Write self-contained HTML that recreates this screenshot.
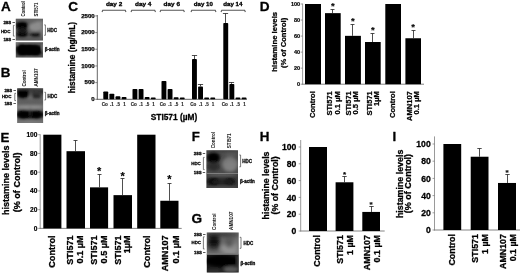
<!DOCTYPE html>
<html><head><meta charset="utf-8"><title>Figure</title>
<style>
html,body{margin:0;padding:0;background:#fff;}
body{width:520px;height:275px;overflow:hidden;}
svg{display:block;font-family:"Liberation Sans", sans-serif;}
text{stroke:#000;stroke-width:0.32px;paint-order:stroke;stroke-linejoin:round;}
</style></head>
<body>
<svg width="520" height="275" viewBox="0 0 520 275">
<rect width="520" height="275" fill="#fff"/>
<defs>
<filter id="bl0_4" x="-50%" y="-50%" width="200%" height="200%"><feGaussianBlur stdDeviation="0.4"/></filter>
<filter id="bl0_8" x="-50%" y="-50%" width="200%" height="200%"><feGaussianBlur stdDeviation="0.8"/></filter>
<filter id="bl1_0" x="-50%" y="-50%" width="200%" height="200%"><feGaussianBlur stdDeviation="1.0"/></filter>
<filter id="bl1_2" x="-50%" y="-50%" width="200%" height="200%"><feGaussianBlur stdDeviation="1.2"/></filter>
<filter id="bl1_4" x="-50%" y="-50%" width="200%" height="200%"><feGaussianBlur stdDeviation="1.4"/></filter>
<filter id="bl1_5" x="-50%" y="-50%" width="200%" height="200%"><feGaussianBlur stdDeviation="1.5"/></filter>
<filter id="bl1_6" x="-50%" y="-50%" width="200%" height="200%"><feGaussianBlur stdDeviation="1.6"/></filter>
<filter id="bl1_8" x="-50%" y="-50%" width="200%" height="200%"><feGaussianBlur stdDeviation="1.8"/></filter>
<filter id="bl2_0" x="-50%" y="-50%" width="200%" height="200%"><feGaussianBlur stdDeviation="2.0"/></filter>
<filter id="bl2_5" x="-50%" y="-50%" width="200%" height="200%"><feGaussianBlur stdDeviation="2.5"/></filter>
</defs>
<clipPath id="c1"><rect x="15.8" y="18.8" width="27.20" height="21.80"/></clipPath>
<g clip-path="url(#c1)"><rect x="13.8" y="16.8" width="31.20" height="25.80" fill="#5e5e5e"/><g filter="url(#bl1_5)">
<ellipse cx="35.5" cy="27.0" rx="6.5" ry="4.5" fill="#8c8c8c" opacity="1"/>
<ellipse cx="40" cy="22.6" rx="4.5" ry="1.0" fill="#9a9a9a" opacity="0.9"/>
<ellipse cx="42.5" cy="30" rx="1.5" ry="7" fill="#888" opacity="0.8"/>
<ellipse cx="22.0" cy="25.6" rx="6.2" ry="4.6" fill="#000" opacity="1"/>
<ellipse cx="22.0" cy="25.6" rx="5.0" ry="3.6" fill="#000" opacity="1"/>
<ellipse cx="22.2" cy="34.4" rx="5.6" ry="2.9" fill="#000" opacity="1"/>
<ellipse cx="22.2" cy="30.4" rx="5.2" ry="3.0" fill="#161616" opacity="0.95"/>
<ellipse cx="35.6" cy="34.6" rx="5.6" ry="2.3" fill="#0c0c0c" opacity="1"/>
<ellipse cx="35.6" cy="34.6" rx="4.0" ry="1.4" fill="#0c0c0c" opacity="0.8"/>
<ellipse cx="29" cy="19.3" rx="16" ry="1.0" fill="#666" opacity="1"/>
<ellipse cx="29" cy="39.8" rx="16" ry="1.0" fill="#555" opacity="1"/>
</g>
</g>
<clipPath id="c2"><rect x="15.8" y="42.2" width="27.20" height="15.40"/></clipPath>
<g clip-path="url(#c2)"><rect x="13.8" y="40.2" width="31.20" height="19.40" fill="#505050"/><g filter="url(#bl1_2)">
<ellipse cx="29.3" cy="50.0" rx="12.4" ry="6.0" fill="#000" opacity="1"/>
<ellipse cx="22.5" cy="50.0" rx="6.4" ry="6.2" fill="#000" opacity="1"/>
<ellipse cx="35.5" cy="50.4" rx="6.4" ry="5.8" fill="#000" opacity="1"/>
<ellipse cx="29.3" cy="50.0" rx="10.5" ry="4.5" fill="#000" opacity="1"/>
<ellipse cx="16.5" cy="43.3" rx="1.5" ry="1.2" fill="#999" opacity="1"/>
<ellipse cx="42.8" cy="47" rx="0.9" ry="4" fill="#909090" opacity="1"/>
<ellipse cx="29" cy="42.4" rx="14" ry="0.5" fill="#7a7a7a" opacity="1"/>
<ellipse cx="29" cy="57.5" rx="14" ry="0.5" fill="#7a7a7a" opacity="1"/>
</g>
</g>
<text x="14.90" y="24.08" font-size="4.4" font-weight="bold" text-anchor="end" fill="#111" style="stroke-width:0.3px">28S –</text>
<text x="10.40" y="32.78" font-size="4.4" font-weight="bold" text-anchor="end" fill="#111" style="stroke-width:0.3px">HDC</text>
<text x="14.90" y="41.48" font-size="4.4" font-weight="bold" text-anchor="end" fill="#111" style="stroke-width:0.3px">18S –</text>
<path d="M14.60 25.40 H13.40 V36.10 H14.60" fill="none" stroke="#444" stroke-width="0.7"/>
<path d="M44.20 24.90 H45.40 V35.30 H44.20" fill="none" stroke="#444" stroke-width="0.7"/>
<text x="47.30" y="31.82" font-size="4.5" font-weight="bold" text-anchor="start" fill="#111" style="stroke-width:0.3px">HDC</text>
<text x="44.80" y="51.12" font-size="4.5" font-weight="bold" text-anchor="start" fill="#111" style="stroke-width:0.3px">β-actin</text>
<text transform="translate(24.99 16.50) rotate(-90)" font-size="4.7" font-weight="bold" text-anchor="start" fill="#222" textLength="15.3" lengthAdjust="spacingAndGlyphs" style="stroke-width:0.05px">Control</text>
<text transform="translate(37.89 16.50) rotate(-90)" font-size="4.7" font-weight="bold" text-anchor="start" fill="#222" textLength="14.0" lengthAdjust="spacingAndGlyphs" style="stroke-width:0.05px">STI571</text>
<clipPath id="c3"><rect x="17.2" y="88.3" width="25.90" height="34.70"/></clipPath>
<g clip-path="url(#c3)"><rect x="15.2" y="86.3" width="29.90" height="38.70" fill="#646464"/><g filter="url(#bl1_5)">
<ellipse cx="30" cy="91.5" rx="15" ry="4.0" fill="#222" opacity="1"/>
<ellipse cx="23.0" cy="94.0" rx="6.2" ry="4.8" fill="#000" opacity="1"/>
<ellipse cx="23.0" cy="92.5" rx="5.0" ry="3.4" fill="#000" opacity="1"/>
<ellipse cx="36.5" cy="93.0" rx="5.5" ry="4.5" fill="#3a3a3a" opacity="0.85"/>
<ellipse cx="36.6" cy="96.6" rx="4.4" ry="1.9" fill="#1c1c1c" opacity="1"/>
<ellipse cx="30.5" cy="95" rx="0.9" ry="5" fill="#777" opacity="0.7"/>
<ellipse cx="30" cy="101.5" rx="15" ry="2.0" fill="#5c5c5c" opacity="0.8"/>
<ellipse cx="30" cy="107.0" rx="15" ry="1.3" fill="#a0a0a0" opacity="1"/>
<ellipse cx="30" cy="114.6" rx="15" ry="4.2" fill="#000" opacity="1"/>
<ellipse cx="23.5" cy="114.4" rx="6.5" ry="5.0" fill="#000" opacity="1"/>
<ellipse cx="36.5" cy="114.6" rx="6" ry="4.6" fill="#000" opacity="1"/>
<ellipse cx="30" cy="114.6" rx="13" ry="3.0" fill="#000" opacity="1"/>
<ellipse cx="30.4" cy="112" rx="0.7" ry="6" fill="#444" opacity="0.6"/>
<ellipse cx="30" cy="122.2" rx="15" ry="1.4" fill="#858585" opacity="1"/>
<ellipse cx="30" cy="88.4" rx="15" ry="0.7" fill="#555" opacity="1"/>
</g>
</g>
<text x="15.90" y="92.08" font-size="4.4" font-weight="bold" text-anchor="end" fill="#111" style="stroke-width:0.3px">28S –</text>
<text x="11.40" y="97.88" font-size="4.4" font-weight="bold" text-anchor="end" fill="#111" style="stroke-width:0.3px">HDC</text>
<text x="15.90" y="105.08" font-size="4.4" font-weight="bold" text-anchor="end" fill="#111" style="stroke-width:0.3px">18S –</text>
<path d="M16.00 93.30 H14.80 V100.60 H16.00" fill="none" stroke="#444" stroke-width="0.7"/>
<path d="M44.40 92.30 H45.60 V100.00 H44.40" fill="none" stroke="#444" stroke-width="0.7"/>
<text x="47.50" y="97.52" font-size="4.5" font-weight="bold" text-anchor="start" fill="#111" style="stroke-width:0.3px">HDC</text>
<text x="44.80" y="115.02" font-size="4.5" font-weight="bold" text-anchor="start" fill="#111" style="stroke-width:0.3px">β-actin</text>
<text transform="translate(25.59 86.60) rotate(-90)" font-size="4.7" font-weight="bold" text-anchor="start" fill="#222" textLength="16.3" lengthAdjust="spacingAndGlyphs" style="stroke-width:0.05px">Control</text>
<text transform="translate(37.89 86.60) rotate(-90)" font-size="4.7" font-weight="bold" text-anchor="start" fill="#222" textLength="18.2" lengthAdjust="spacingAndGlyphs" style="stroke-width:0.05px">AMN107</text>
<clipPath id="c4"><rect x="206.4" y="150.2" width="31.60" height="22.80"/></clipPath>
<g clip-path="url(#c4)"><rect x="204.4" y="148.2" width="35.60" height="26.80" fill="#4c4c4c"/><g filter="url(#bl1_8)">
<ellipse cx="230" cy="164.5" rx="8" ry="7.5" fill="#787878" opacity="1"/>
<ellipse cx="230" cy="166" rx="5" ry="4.5" fill="#828282" opacity="0.8"/>
<ellipse cx="231" cy="154.5" rx="6" ry="2.5" fill="#5a5a5a" opacity="0.8"/>
<ellipse cx="213.4" cy="157.6" rx="6.6" ry="5.4" fill="#000" opacity="1"/>
<ellipse cx="213.4" cy="157.0" rx="5.2" ry="3.8" fill="#000" opacity="1"/>
<ellipse cx="213.5" cy="166.5" rx="6.5" ry="4.5" fill="#2a2a2a" opacity="0.9"/>
<ellipse cx="222" cy="150.8" rx="16" ry="1.0" fill="#3a3a3a" opacity="1"/>
<ellipse cx="222" cy="172.4" rx="16" ry="1.0" fill="#484848" opacity="1"/>
</g>
</g>
<clipPath id="c5"><rect x="206.4" y="173.0" width="31.60" height="15.00"/></clipPath>
<g clip-path="url(#c5)"><rect x="204.4" y="171.0" width="35.60" height="19.00" fill="#3a3a3a"/><g filter="url(#bl1_2)">
<ellipse cx="213.8" cy="181.6" rx="6.5" ry="4" fill="#0a0a0a" opacity="1"/>
<ellipse cx="229.5" cy="181.6" rx="6" ry="3.8" fill="#161616" opacity="1"/>
<ellipse cx="222" cy="181.8" rx="10" ry="3" fill="#222" opacity="0.8"/>
<ellipse cx="222" cy="175.0" rx="16" ry="1.0" fill="#6a6a6a" opacity="0.9"/>
<ellipse cx="222" cy="187.8" rx="16" ry="0.8" fill="#5a5a5a" opacity="1"/>
</g>
<rect x="206" y="172.7" width="33.00" height="1.00" fill="#a0a0a0" opacity="0.9" filter="url(#bl0_4)"/>
</g>
<text x="205.30" y="154.88" font-size="4.4" font-weight="bold" text-anchor="end" fill="#111" style="stroke-width:0.3px">28S –</text>
<text x="200.80" y="164.78" font-size="4.4" font-weight="bold" text-anchor="end" fill="#111" style="stroke-width:0.3px">HDC</text>
<text x="205.30" y="173.98" font-size="4.4" font-weight="bold" text-anchor="end" fill="#111" style="stroke-width:0.3px">18S –</text>
<path d="M204.60 157.40 H203.40 V169.60 H204.60" fill="none" stroke="#444" stroke-width="0.7"/>
<path d="M239.40 155.00 H240.60 V166.80 H239.40" fill="none" stroke="#444" stroke-width="0.7"/>
<text x="242.20" y="163.22" font-size="4.5" font-weight="bold" text-anchor="start" fill="#111" style="stroke-width:0.3px">HDC</text>
<text x="240.00" y="183.22" font-size="4.5" font-weight="bold" text-anchor="start" fill="#111" style="stroke-width:0.3px">β-actin</text>
<text transform="translate(214.79 148.20) rotate(-90)" font-size="4.7" font-weight="bold" text-anchor="start" fill="#222" textLength="16.2" lengthAdjust="spacingAndGlyphs" style="stroke-width:0.05px">Control</text>
<text transform="translate(231.09 148.20) rotate(-90)" font-size="4.7" font-weight="bold" text-anchor="start" fill="#222" textLength="14.8" lengthAdjust="spacingAndGlyphs" style="stroke-width:0.05px">STI571</text>
<clipPath id="c6"><rect x="206.8" y="232.4" width="31.90" height="21.40"/></clipPath>
<g clip-path="url(#c6)"><rect x="204.8" y="230.4" width="35.90" height="25.40" fill="#707070"/><g filter="url(#bl2_0)">
<ellipse cx="230" cy="247" rx="8" ry="5" fill="#8e8e8e" opacity="1"/>
<ellipse cx="222.5" cy="234.4" rx="17" ry="2.0" fill="#2c2c2c" opacity="1"/>
<ellipse cx="213.0" cy="236" rx="6" ry="2.5" fill="#1c1c1c" opacity="0.9"/>
<ellipse cx="214.0" cy="243.0" rx="6.8" ry="6.8" fill="#1e1e1e" opacity="1"/>
<ellipse cx="213.5" cy="248.5" rx="6" ry="2.5" fill="#3a3a3a" opacity="0.8"/>
<ellipse cx="214.0" cy="242.5" rx="4.6" ry="4.2" fill="#101010" opacity="0.9"/>
<ellipse cx="229.0" cy="243.4" rx="4.8" ry="4.2" fill="#505050" opacity="0.9"/>
<ellipse cx="229.5" cy="238.5" rx="6" ry="2.0" fill="#5a5a5a" opacity="0.8"/>
<ellipse cx="223.2" cy="248.0" rx="2.0" ry="3.0" fill="#a8a8a8" opacity="0.8"/>
<ellipse cx="231" cy="252.2" rx="8" ry="1.6" fill="#a0a0a0" opacity="0.9"/>
<ellipse cx="214" cy="252.4" rx="7" ry="1.2" fill="#6a6a6a" opacity="0.8"/>
</g>
</g>
<clipPath id="c7"><rect x="206.8" y="253.8" width="31.90" height="18.80"/></clipPath>
<g clip-path="url(#c7)"><rect x="204.8" y="251.8" width="35.90" height="22.80" fill="#1a1a1a"/><g filter="url(#bl1_5)">
<ellipse cx="222" cy="261" rx="17" ry="6" fill="#000" opacity="1"/>
<ellipse cx="231" cy="269.5" rx="8" ry="3" fill="#626262" opacity="0.9"/>
<ellipse cx="214" cy="271.0" rx="8" ry="1.5" fill="#3a3a3a" opacity="0.9"/>
<ellipse cx="238.2" cy="262" rx="0.8" ry="8" fill="#555" opacity="1"/>
</g>
<rect x="206" y="253.5" width="33.00" height="1.10" fill="#b0b0b0" opacity="0.9" filter="url(#bl0_4)"/>
</g>
<text x="205.50" y="235.58" font-size="4.4" font-weight="bold" text-anchor="end" fill="#111" style="stroke-width:0.3px">28S –</text>
<text x="201.00" y="243.78" font-size="4.4" font-weight="bold" text-anchor="end" fill="#111" style="stroke-width:0.3px">HDC</text>
<text x="205.50" y="254.18" font-size="4.4" font-weight="bold" text-anchor="end" fill="#111" style="stroke-width:0.3px">18S –</text>
<path d="M204.60 236.80 H203.40 V249.00 H204.60" fill="none" stroke="#444" stroke-width="0.7"/>
<path d="M239.80 237.30 H241.00 V248.30 H239.80" fill="none" stroke="#444" stroke-width="0.7"/>
<text x="243.50" y="244.82" font-size="4.5" font-weight="bold" text-anchor="start" fill="#111" style="stroke-width:0.3px">HDC</text>
<text x="240.60" y="265.02" font-size="4.5" font-weight="bold" text-anchor="start" fill="#111" style="stroke-width:0.3px">β-actin</text>
<text transform="translate(215.99 229.90) rotate(-90)" font-size="4.7" font-weight="bold" text-anchor="start" fill="#222" textLength="16.4" lengthAdjust="spacingAndGlyphs" style="stroke-width:0.05px">Control</text>
<text transform="translate(233.19 229.90) rotate(-90)" font-size="4.7" font-weight="bold" text-anchor="start" fill="#222" textLength="18.2" lengthAdjust="spacingAndGlyphs" style="stroke-width:0.05px">AMN107</text>
<text x="0.90" y="11.37" font-size="13.5" text-anchor="start" font-weight="bold" fill="#000" style="stroke-width:0.3px">A</text>
<text x="0.80" y="77.49" font-size="13.4" text-anchor="start" font-weight="bold" fill="#000" style="stroke-width:0.3px">B</text>
<text x="68.30" y="11.24" font-size="13.6" text-anchor="start" font-weight="bold" fill="#000" style="stroke-width:0.3px">C</text>
<text x="259.80" y="10.94" font-size="13.6" text-anchor="start" font-weight="bold" fill="#000" style="stroke-width:0.3px">D</text>
<text x="0.40" y="141.62" font-size="13.3" text-anchor="start" font-weight="bold" fill="#000" style="stroke-width:0.3px">E</text>
<text x="191.80" y="141.05" font-size="13.2" text-anchor="start" font-weight="bold" fill="#000" style="stroke-width:0.3px">F</text>
<text x="191.60" y="222.64" font-size="13.6" text-anchor="start" font-weight="bold" fill="#000" style="stroke-width:0.3px">G</text>
<text x="259.70" y="141.49" font-size="13.4" text-anchor="start" font-weight="bold" fill="#000" style="stroke-width:0.3px">H</text>
<text x="392.50" y="141.39" font-size="13.4" text-anchor="start" font-weight="bold" fill="#000" style="stroke-width:0.3px">I</text>
<line x1="302.60" y1="3.60" x2="302.60" y2="84.60" stroke="#808080" stroke-width="0.8"/>
<line x1="302.20" y1="84.20" x2="424.00" y2="84.20" stroke="#777" stroke-width="0.9"/>
<line x1="300.60" y1="84.20" x2="302.60" y2="84.20" stroke="#777" stroke-width="0.7"/>
<text x="300.10" y="86.18" font-size="5.5" text-anchor="end" font-weight="bold" fill="#000"  style="stroke-width:0.178px">0</text>
<line x1="300.60" y1="68.16" x2="302.60" y2="68.16" stroke="#777" stroke-width="0.7"/>
<text x="300.10" y="70.14" font-size="5.5" text-anchor="end" font-weight="bold" fill="#000"  style="stroke-width:0.178px">20</text>
<line x1="300.60" y1="52.12" x2="302.60" y2="52.12" stroke="#777" stroke-width="0.7"/>
<text x="300.10" y="54.10" font-size="5.5" text-anchor="end" font-weight="bold" fill="#000"  style="stroke-width:0.178px">40</text>
<line x1="300.60" y1="36.08" x2="302.60" y2="36.08" stroke="#777" stroke-width="0.7"/>
<text x="300.10" y="38.06" font-size="5.5" text-anchor="end" font-weight="bold" fill="#000"  style="stroke-width:0.178px">60</text>
<line x1="300.60" y1="20.04" x2="302.60" y2="20.04" stroke="#777" stroke-width="0.7"/>
<text x="300.10" y="22.02" font-size="5.5" text-anchor="end" font-weight="bold" fill="#000"  style="stroke-width:0.178px">80</text>
<line x1="300.60" y1="4.00" x2="302.60" y2="4.00" stroke="#777" stroke-width="0.7"/>
<text x="300.10" y="5.98" font-size="5.5" text-anchor="end" font-weight="bold" fill="#000"  style="stroke-width:0.178px">100</text>
<rect x="305.00" y="4.00" width="16.00" height="80.20" fill="#000" />
<rect x="325.00" y="13.14" width="15.70" height="71.06" fill="#000" />
<line x1="332.50" y1="9.50" x2="332.50" y2="13.14" stroke="#222" stroke-width="0.8"/>
<line x1="330.50" y1="9.50" x2="334.50" y2="9.50" stroke="#222" stroke-width="0.8"/>
<text x="332.85" y="9.46" font-size="9.5" text-anchor="middle" font-weight="bold" fill="#000" style="stroke-width:0.15px">*</text>
<rect x="345.00" y="35.84" width="15.90" height="48.36" fill="#000" />
<line x1="352.50" y1="24.50" x2="352.50" y2="35.84" stroke="#222" stroke-width="0.8"/>
<line x1="350.50" y1="24.50" x2="354.50" y2="24.50" stroke="#222" stroke-width="0.8"/>
<text x="352.95" y="23.66" font-size="9.5" text-anchor="middle" font-weight="bold" fill="#000" style="stroke-width:0.15px">*</text>
<rect x="365.00" y="42.01" width="15.70" height="42.19" fill="#000" />
<line x1="372.50" y1="33.50" x2="372.50" y2="42.01" stroke="#222" stroke-width="0.8"/>
<line x1="370.50" y1="33.50" x2="374.50" y2="33.50" stroke="#222" stroke-width="0.8"/>
<text x="372.85" y="33.16" font-size="9.5" text-anchor="middle" font-weight="bold" fill="#000" style="stroke-width:0.15px">*</text>
<rect x="385.30" y="4.00" width="15.70" height="80.20" fill="#000" />
<rect x="405.40" y="38.25" width="15.60" height="45.95" fill="#000" />
<line x1="413.50" y1="30.50" x2="413.50" y2="38.25" stroke="#222" stroke-width="0.8"/>
<line x1="411.50" y1="30.50" x2="415.50" y2="30.50" stroke="#222" stroke-width="0.8"/>
<text x="413.20" y="30.05" font-size="9.5" text-anchor="middle" font-weight="bold" fill="#000" style="stroke-width:0.15px">*</text>
<text transform="translate(276.70 41.80) rotate(-90)" font-size="7.9" text-anchor="middle" font-weight="bold" fill="#000" textLength="59.8" lengthAdjust="spacingAndGlyphs" style="stroke-width:0.264px">histamine levels</text>
<text transform="translate(285.50 42.90) rotate(-90)" font-size="7.6" text-anchor="middle" font-weight="bold" fill="#000" textLength="50.2" lengthAdjust="spacingAndGlyphs" style="stroke-width:0.254px">(% of Control)</text>
<text transform="translate(314.62 91.20) rotate(-90)" font-size="7.55" text-anchor="end" font-weight="bold" fill="#000"  style="stroke-width:0.252px">Control</text>
<text transform="translate(331.77 91.20) rotate(-90)" font-size="7.55" text-anchor="end" font-weight="bold" fill="#000"  style="stroke-width:0.252px">STI571</text>
<text transform="translate(339.92 91.20) rotate(-90)" font-size="7.55" text-anchor="end" font-weight="bold" fill="#000"  style="stroke-width:0.252px">0.1 µM</text>
<text transform="translate(351.22 91.20) rotate(-90)" font-size="7.55" text-anchor="end" font-weight="bold" fill="#000"  style="stroke-width:0.252px">STI571</text>
<text transform="translate(358.42 91.20) rotate(-90)" font-size="7.55" text-anchor="end" font-weight="bold" fill="#000"  style="stroke-width:0.252px">0.5 µM</text>
<text transform="translate(371.72 91.20) rotate(-90)" font-size="7.55" text-anchor="end" font-weight="bold" fill="#000"  style="stroke-width:0.252px">STI571</text>
<text transform="translate(379.32 91.20) rotate(-90)" font-size="7.55" text-anchor="end" font-weight="bold" fill="#000"  style="stroke-width:0.252px">1µM</text>
<text transform="translate(395.07 91.20) rotate(-90)" font-size="7.55" text-anchor="end" font-weight="bold" fill="#000"  style="stroke-width:0.252px">Control</text>
<text transform="translate(412.07 91.20) rotate(-90)" font-size="7.55" text-anchor="end" font-weight="bold" fill="#000"  style="stroke-width:0.252px">AMN107</text>
<text transform="translate(419.32 91.20) rotate(-90)" font-size="7.55" text-anchor="end" font-weight="bold" fill="#000"  style="stroke-width:0.252px">0.1 µM</text>
<line x1="40.20" y1="134.30" x2="40.20" y2="228.80" stroke="#808080" stroke-width="0.8"/>
<line x1="39.80" y1="228.40" x2="181.70" y2="228.40" stroke="#777" stroke-width="0.9"/>
<line x1="38.20" y1="228.40" x2="40.20" y2="228.40" stroke="#777" stroke-width="0.7"/>
<text x="37.40" y="230.78" font-size="6.6" text-anchor="end" font-weight="bold" fill="#000"  style="stroke-width:0.218px">0</text>
<line x1="38.20" y1="209.66" x2="40.20" y2="209.66" stroke="#777" stroke-width="0.7"/>
<text x="37.40" y="212.04" font-size="6.6" text-anchor="end" font-weight="bold" fill="#000"  style="stroke-width:0.218px">20</text>
<line x1="38.20" y1="190.92" x2="40.20" y2="190.92" stroke="#777" stroke-width="0.7"/>
<text x="37.40" y="193.30" font-size="6.6" text-anchor="end" font-weight="bold" fill="#000"  style="stroke-width:0.218px">40</text>
<line x1="38.20" y1="172.18" x2="40.20" y2="172.18" stroke="#777" stroke-width="0.7"/>
<text x="37.40" y="174.56" font-size="6.6" text-anchor="end" font-weight="bold" fill="#000"  style="stroke-width:0.218px">60</text>
<line x1="38.20" y1="153.44" x2="40.20" y2="153.44" stroke="#777" stroke-width="0.7"/>
<text x="37.40" y="155.82" font-size="6.6" text-anchor="end" font-weight="bold" fill="#000"  style="stroke-width:0.218px">80</text>
<line x1="38.20" y1="134.70" x2="40.20" y2="134.70" stroke="#777" stroke-width="0.7"/>
<text x="37.40" y="137.08" font-size="6.6" text-anchor="end" font-weight="bold" fill="#000"  style="stroke-width:0.218px">100</text>
<rect x="43.30" y="134.70" width="18.10" height="93.70" fill="#000" />
<rect x="66.50" y="151.19" width="18.50" height="77.21" fill="#000" />
<line x1="75.50" y1="140.50" x2="75.50" y2="151.19" stroke="#222" stroke-width="0.8"/>
<line x1="73.50" y1="140.50" x2="77.50" y2="140.50" stroke="#222" stroke-width="0.8"/>
<rect x="90.00" y="187.36" width="18.10" height="41.04" fill="#000" />
<line x1="99.50" y1="174.50" x2="99.50" y2="187.36" stroke="#222" stroke-width="0.8"/>
<line x1="97.50" y1="174.50" x2="101.50" y2="174.50" stroke="#222" stroke-width="0.8"/>
<text x="99.05" y="174.89" font-size="11" text-anchor="middle" font-weight="bold" fill="#000" style="stroke-width:0.15px">*</text>
<rect x="113.50" y="195.14" width="18.50" height="33.26" fill="#000" />
<line x1="122.50" y1="178.50" x2="122.50" y2="195.14" stroke="#222" stroke-width="0.8"/>
<line x1="120.50" y1="178.50" x2="124.50" y2="178.50" stroke="#222" stroke-width="0.8"/>
<text x="122.75" y="179.69" font-size="11" text-anchor="middle" font-weight="bold" fill="#000" style="stroke-width:0.15px">*</text>
<rect x="137.20" y="134.70" width="18.30" height="93.70" fill="#000" />
<rect x="160.30" y="200.76" width="18.20" height="27.64" fill="#000" />
<line x1="169.50" y1="183.50" x2="169.50" y2="200.76" stroke="#222" stroke-width="0.8"/>
<line x1="167.50" y1="183.50" x2="171.50" y2="183.50" stroke="#222" stroke-width="0.8"/>
<text x="169.40" y="183.09" font-size="11" text-anchor="middle" font-weight="bold" fill="#000" style="stroke-width:0.15px">*</text>
<text transform="translate(8.80 180.30) rotate(-90)" font-size="9.0" text-anchor="middle" font-weight="bold" fill="#000" textLength="69.6" lengthAdjust="spacingAndGlyphs" style="stroke-width:0.304px">histamine levels</text>
<text transform="translate(20.20 182.35) rotate(-90)" font-size="8.7" text-anchor="middle" font-weight="bold" fill="#000" textLength="59.7" lengthAdjust="spacingAndGlyphs" style="stroke-width:0.293px">(% of Control)</text>
<text transform="translate(54.88 235.40) rotate(-90)" font-size="9.1" text-anchor="end" font-weight="bold" fill="#000"  style="stroke-width:0.308px">Control</text>
<text transform="translate(73.43 235.40) rotate(-90)" font-size="9.1" text-anchor="end" font-weight="bold" fill="#000"  style="stroke-width:0.308px">STI571</text>
<text transform="translate(82.83 235.40) rotate(-90)" font-size="9.1" text-anchor="end" font-weight="bold" fill="#000"  style="stroke-width:0.308px">0.1 µM</text>
<text transform="translate(96.93 235.40) rotate(-90)" font-size="9.1" text-anchor="end" font-weight="bold" fill="#000"  style="stroke-width:0.308px">STI571</text>
<text transform="translate(106.68 235.40) rotate(-90)" font-size="9.1" text-anchor="end" font-weight="bold" fill="#000"  style="stroke-width:0.308px">0.5 µM</text>
<text transform="translate(120.98 235.40) rotate(-90)" font-size="9.1" text-anchor="end" font-weight="bold" fill="#000"  style="stroke-width:0.308px">STI571</text>
<text transform="translate(129.98 235.40) rotate(-90)" font-size="9.1" text-anchor="end" font-weight="bold" fill="#000"  style="stroke-width:0.308px">1µM</text>
<text transform="translate(149.98 235.40) rotate(-90)" font-size="9.1" text-anchor="end" font-weight="bold" fill="#000"  style="stroke-width:0.308px">Control</text>
<text transform="translate(168.38 235.40) rotate(-90)" font-size="9.1" text-anchor="end" font-weight="bold" fill="#000"  style="stroke-width:0.308px">AMN107</text>
<text transform="translate(178.88 235.40) rotate(-90)" font-size="9.1" text-anchor="end" font-weight="bold" fill="#000"  style="stroke-width:0.308px">0.1 µM</text>
<line x1="300.70" y1="140.00" x2="300.70" y2="231.40" stroke="#808080" stroke-width="0.8"/>
<line x1="300.30" y1="231.00" x2="384.70" y2="231.00" stroke="#777" stroke-width="0.9"/>
<line x1="298.70" y1="231.00" x2="300.70" y2="231.00" stroke="#777" stroke-width="0.7"/>
<text x="296.30" y="234.10" font-size="8.6" text-anchor="end" font-weight="bold" fill="#000"  style="stroke-width:0.290px">0</text>
<line x1="298.70" y1="214.20" x2="300.70" y2="214.20" stroke="#777" stroke-width="0.7"/>
<text x="296.30" y="217.30" font-size="8.6" text-anchor="end" font-weight="bold" fill="#000"  style="stroke-width:0.290px">20</text>
<line x1="298.70" y1="197.40" x2="300.70" y2="197.40" stroke="#777" stroke-width="0.7"/>
<text x="296.30" y="200.50" font-size="8.6" text-anchor="end" font-weight="bold" fill="#000"  style="stroke-width:0.290px">40</text>
<line x1="298.70" y1="180.60" x2="300.70" y2="180.60" stroke="#777" stroke-width="0.7"/>
<text x="296.30" y="183.70" font-size="8.6" text-anchor="end" font-weight="bold" fill="#000"  style="stroke-width:0.290px">60</text>
<line x1="298.70" y1="163.80" x2="300.70" y2="163.80" stroke="#777" stroke-width="0.7"/>
<text x="296.30" y="166.90" font-size="8.6" text-anchor="end" font-weight="bold" fill="#000"  style="stroke-width:0.290px">80</text>
<line x1="298.70" y1="147.00" x2="300.70" y2="147.00" stroke="#777" stroke-width="0.7"/>
<text x="296.30" y="150.10" font-size="8.6" text-anchor="end" font-weight="bold" fill="#000"  style="stroke-width:0.290px">100</text>
<rect x="309.00" y="147.00" width="18.00" height="84.00" fill="#000" />
<rect x="335.60" y="182.28" width="17.80" height="48.72" fill="#000" />
<line x1="344.50" y1="176.50" x2="344.50" y2="182.28" stroke="#222" stroke-width="0.8"/>
<line x1="342.30" y1="176.50" x2="346.70" y2="176.50" stroke="#222" stroke-width="0.8"/>
<text x="344.50" y="176.82" font-size="8" text-anchor="middle" font-weight="bold" fill="#000" style="stroke-width:0.15px">*</text>
<rect x="362.30" y="211.93" width="17.70" height="19.07" fill="#000" />
<line x1="371.50" y1="206.50" x2="371.50" y2="211.93" stroke="#222" stroke-width="0.8"/>
<line x1="369.30" y1="206.50" x2="373.70" y2="206.50" stroke="#222" stroke-width="0.8"/>
<text x="371.15" y="207.22" font-size="8" text-anchor="middle" font-weight="bold" fill="#000" style="stroke-width:0.15px">*</text>
<text transform="translate(269.10 185.45) rotate(-90)" font-size="8.9" text-anchor="middle" font-weight="bold" fill="#000" textLength="67.9" lengthAdjust="spacingAndGlyphs" style="stroke-width:0.300px">histamine levels</text>
<text transform="translate(277.50 185.40) rotate(-90)" font-size="8.4" text-anchor="middle" font-weight="bold" fill="#000" textLength="58.2" lengthAdjust="spacingAndGlyphs" style="stroke-width:0.282px">(% of Control)</text>
<text transform="translate(320.20 235.10) rotate(-90)" font-size="8.9" text-anchor="end" font-weight="bold" fill="#000"  style="stroke-width:0.300px">Control</text>
<text transform="translate(343.20 235.10) rotate(-90)" font-size="8.9" text-anchor="end" font-weight="bold" fill="#000"  style="stroke-width:0.300px">STI571</text>
<text transform="translate(353.30 235.10) rotate(-90)" font-size="8.9" text-anchor="end" font-weight="bold" fill="#000"  style="stroke-width:0.300px">1 µM</text>
<text transform="translate(370.40 235.10) rotate(-90)" font-size="8.9" text-anchor="end" font-weight="bold" fill="#000"  style="stroke-width:0.300px">AMN107</text>
<text transform="translate(379.70 235.10) rotate(-90)" font-size="8.9" text-anchor="end" font-weight="bold" fill="#000"  style="stroke-width:0.300px">0.1 µM</text>
<line x1="434.50" y1="136.40" x2="434.50" y2="230.40" stroke="#808080" stroke-width="0.8"/>
<line x1="434.10" y1="230.00" x2="520.00" y2="230.00" stroke="#777" stroke-width="0.9"/>
<line x1="432.50" y1="230.00" x2="434.50" y2="230.00" stroke="#777" stroke-width="0.7"/>
<text x="430.70" y="233.10" font-size="8.6" text-anchor="end" font-weight="bold" fill="#000"  style="stroke-width:0.290px">0</text>
<line x1="432.50" y1="212.80" x2="434.50" y2="212.80" stroke="#777" stroke-width="0.7"/>
<text x="430.70" y="215.90" font-size="8.6" text-anchor="end" font-weight="bold" fill="#000"  style="stroke-width:0.290px">20</text>
<line x1="432.50" y1="195.60" x2="434.50" y2="195.60" stroke="#777" stroke-width="0.7"/>
<text x="430.70" y="198.70" font-size="8.6" text-anchor="end" font-weight="bold" fill="#000"  style="stroke-width:0.290px">40</text>
<line x1="432.50" y1="178.40" x2="434.50" y2="178.40" stroke="#777" stroke-width="0.7"/>
<text x="430.70" y="181.50" font-size="8.6" text-anchor="end" font-weight="bold" fill="#000"  style="stroke-width:0.290px">60</text>
<line x1="432.50" y1="161.20" x2="434.50" y2="161.20" stroke="#777" stroke-width="0.7"/>
<text x="430.70" y="164.30" font-size="8.6" text-anchor="end" font-weight="bold" fill="#000"  style="stroke-width:0.290px">80</text>
<line x1="432.50" y1="144.00" x2="434.50" y2="144.00" stroke="#777" stroke-width="0.7"/>
<text x="430.70" y="147.10" font-size="8.6" text-anchor="end" font-weight="bold" fill="#000"  style="stroke-width:0.290px">100</text>
<rect x="443.40" y="144.00" width="17.80" height="86.00" fill="#000" />
<rect x="470.70" y="156.73" width="17.80" height="73.27" fill="#000" />
<line x1="479.50" y1="148.50" x2="479.50" y2="156.73" stroke="#222" stroke-width="0.8"/>
<line x1="477.30" y1="148.50" x2="481.70" y2="148.50" stroke="#222" stroke-width="0.8"/>
<rect x="498.00" y="182.96" width="18.00" height="47.04" fill="#000" />
<line x1="507.50" y1="174.50" x2="507.50" y2="182.96" stroke="#222" stroke-width="0.8"/>
<line x1="505.30" y1="174.50" x2="509.70" y2="174.50" stroke="#222" stroke-width="0.8"/>
<text x="507.00" y="175.12" font-size="8" text-anchor="middle" font-weight="bold" fill="#000" style="stroke-width:0.15px">*</text>
<text transform="translate(402.70 183.90) rotate(-90)" font-size="8.9" text-anchor="middle" font-weight="bold" fill="#000" textLength="68.4" lengthAdjust="spacingAndGlyphs" style="stroke-width:0.300px">histamine levels</text>
<text transform="translate(411.20 183.55) rotate(-90)" font-size="8.4" text-anchor="middle" font-weight="bold" fill="#000" textLength="59.3" lengthAdjust="spacingAndGlyphs" style="stroke-width:0.282px">(% of Control)</text>
<text transform="translate(454.90 234.00) rotate(-90)" font-size="8.9" text-anchor="end" font-weight="bold" fill="#000"  style="stroke-width:0.300px">Control</text>
<text transform="translate(478.20 234.00) rotate(-90)" font-size="8.9" text-anchor="end" font-weight="bold" fill="#000"  style="stroke-width:0.300px">STI571</text>
<text transform="translate(488.10 234.00) rotate(-90)" font-size="8.9" text-anchor="end" font-weight="bold" fill="#000"  style="stroke-width:0.300px">1 µM</text>
<text transform="translate(505.90 234.00) rotate(-90)" font-size="8.9" text-anchor="end" font-weight="bold" fill="#000"  style="stroke-width:0.300px">AMN107</text>
<text transform="translate(515.70 234.00) rotate(-90)" font-size="8.9" text-anchor="end" font-weight="bold" fill="#000"  style="stroke-width:0.300px">0.1 µM</text>
<line x1="97.30" y1="15.00" x2="97.30" y2="99.70" stroke="#555" stroke-width="0.9"/>
<line x1="96.90" y1="99.30" x2="247.00" y2="99.30" stroke="#555" stroke-width="0.9"/>
<line x1="95.30" y1="99.30" x2="97.30" y2="99.30" stroke="#666" stroke-width="0.8"/>
<text x="94.70" y="101.13" font-size="6.1" text-anchor="end" font-weight="bold" fill="#000" style="stroke-width:0.25px">0</text>
<line x1="95.30" y1="82.62" x2="97.30" y2="82.62" stroke="#666" stroke-width="0.8"/>
<text x="94.70" y="84.45" font-size="6.1" text-anchor="end" font-weight="bold" fill="#000" style="stroke-width:0.25px">500</text>
<line x1="95.30" y1="65.94" x2="97.30" y2="65.94" stroke="#666" stroke-width="0.8"/>
<text x="94.70" y="67.77" font-size="6.1" text-anchor="end" font-weight="bold" fill="#000" style="stroke-width:0.25px">1000</text>
<line x1="95.30" y1="49.26" x2="97.30" y2="49.26" stroke="#666" stroke-width="0.8"/>
<text x="94.70" y="51.09" font-size="6.1" text-anchor="end" font-weight="bold" fill="#000" style="stroke-width:0.25px">1500</text>
<line x1="95.30" y1="32.58" x2="97.30" y2="32.58" stroke="#666" stroke-width="0.8"/>
<text x="94.70" y="34.41" font-size="6.1" text-anchor="end" font-weight="bold" fill="#000" style="stroke-width:0.25px">2000</text>
<line x1="95.30" y1="15.90" x2="97.30" y2="15.90" stroke="#666" stroke-width="0.8"/>
<text x="94.70" y="17.73" font-size="6.1" text-anchor="end" font-weight="bold" fill="#000" style="stroke-width:0.25px">2500</text>
<text x="114.10" y="6.20" font-size="5.9" text-anchor="middle" font-weight="bold" fill="#000" style="stroke-width:0.3px" textLength="16.4" lengthAdjust="spacingAndGlyphs">day 2</text>
<path d="M102.0 11.9 L102.8 10.3 L125.2 10.3 L126.0 11.9" fill="none" stroke="#555" stroke-width="1.1"/>
<rect x="103.30" y="91.46" width="4.90" height="7.84" rx="0.8" fill="#000"/>
<rect x="109.40" y="93.80" width="4.90" height="5.50" rx="0.8" fill="#000"/>
<rect x="115.50" y="96.36" width="4.90" height="2.94" rx="0.8" fill="#000"/>
<rect x="121.60" y="97.10" width="4.90" height="2.20" rx="0.8" fill="#000"/>
<text x="104.65" y="105.80" font-size="4.5" text-anchor="middle" font-weight="bold" fill="#222" style="stroke-width:0.12px">Co</text>
<text x="112.00" y="105.80" font-size="4.5" text-anchor="middle" font-weight="bold" fill="#222" style="stroke-width:0.12px">.1</text>
<text x="118.20" y="105.80" font-size="4.5" text-anchor="middle" font-weight="bold" fill="#222" style="stroke-width:0.12px">.5</text>
<text x="124.40" y="105.80" font-size="4.5" text-anchor="middle" font-weight="bold" fill="#222" style="stroke-width:0.12px">1</text>
<text x="143.20" y="6.20" font-size="5.9" text-anchor="middle" font-weight="bold" fill="#000" style="stroke-width:0.3px" textLength="16.4" lengthAdjust="spacingAndGlyphs">day 4</text>
<path d="M131.0 11.9 L131.8 10.3 L154.7 10.3 L155.5 11.9" fill="none" stroke="#555" stroke-width="1.1"/>
<rect x="132.50" y="88.96" width="4.90" height="10.34" rx="0.8" fill="#000"/>
<rect x="138.60" y="88.96" width="4.90" height="10.34" rx="0.8" fill="#000"/>
<rect x="144.70" y="97.10" width="4.90" height="2.20" rx="0.8" fill="#000"/>
<rect x="150.80" y="97.57" width="4.90" height="1.73" rx="0.8" fill="#000"/>
<text x="133.85" y="105.80" font-size="4.5" text-anchor="middle" font-weight="bold" fill="#222" style="stroke-width:0.12px">Co</text>
<text x="141.20" y="105.80" font-size="4.5" text-anchor="middle" font-weight="bold" fill="#222" style="stroke-width:0.12px">.1</text>
<text x="147.40" y="105.80" font-size="4.5" text-anchor="middle" font-weight="bold" fill="#222" style="stroke-width:0.12px">.5</text>
<text x="153.60" y="105.80" font-size="4.5" text-anchor="middle" font-weight="bold" fill="#222" style="stroke-width:0.12px">1</text>
<text x="171.80" y="6.20" font-size="5.9" text-anchor="middle" font-weight="bold" fill="#000" style="stroke-width:0.3px" textLength="16.4" lengthAdjust="spacingAndGlyphs">day 6</text>
<path d="M160.0 11.9 L160.8 10.3 L183.6 10.3 L184.4 11.9" fill="none" stroke="#555" stroke-width="1.1"/>
<rect x="161.50" y="80.95" width="4.90" height="18.35" rx="0.8" fill="#000"/>
<rect x="167.60" y="88.96" width="4.90" height="10.34" rx="0.8" fill="#000"/>
<rect x="173.70" y="97.23" width="4.90" height="2.07" rx="0.8" fill="#000"/>
<rect x="179.80" y="97.43" width="4.90" height="1.87" rx="0.8" fill="#000"/>
<text x="162.85" y="105.80" font-size="4.5" text-anchor="middle" font-weight="bold" fill="#222" style="stroke-width:0.12px">Co</text>
<text x="170.20" y="105.80" font-size="4.5" text-anchor="middle" font-weight="bold" fill="#222" style="stroke-width:0.12px">.1</text>
<text x="176.40" y="105.80" font-size="4.5" text-anchor="middle" font-weight="bold" fill="#222" style="stroke-width:0.12px">.5</text>
<text x="182.60" y="105.80" font-size="4.5" text-anchor="middle" font-weight="bold" fill="#222" style="stroke-width:0.12px">1</text>
<text x="203.30" y="6.20" font-size="5.9" text-anchor="middle" font-weight="bold" fill="#000" style="stroke-width:0.3px" textLength="19.2" lengthAdjust="spacingAndGlyphs">day 10</text>
<path d="M191.0 11.9 L191.8 10.3 L215.2 10.3 L216.0 11.9" fill="none" stroke="#555" stroke-width="1.1"/>
<rect x="192.00" y="59.10" width="4.90" height="40.20" rx="0.8" fill="#000"/>
<line x1="194.50" y1="55.50" x2="194.50" y2="59.10" stroke="#222" stroke-width="0.8"/>
<line x1="191.90" y1="55.50" x2="197.10" y2="55.50" stroke="#222" stroke-width="0.8"/>
<rect x="198.10" y="86.46" width="4.90" height="12.84" rx="0.8" fill="#000"/>
<line x1="200.50" y1="84.50" x2="200.50" y2="86.46" stroke="#222" stroke-width="0.8"/>
<line x1="197.90" y1="84.50" x2="203.10" y2="84.50" stroke="#222" stroke-width="0.8"/>
<rect x="204.20" y="97.43" width="4.90" height="1.87" rx="0.8" fill="#000"/>
<rect x="210.30" y="97.57" width="4.90" height="1.73" rx="0.8" fill="#000"/>
<text x="193.35" y="105.80" font-size="4.5" text-anchor="middle" font-weight="bold" fill="#222" style="stroke-width:0.12px">Co</text>
<text x="200.70" y="105.80" font-size="4.5" text-anchor="middle" font-weight="bold" fill="#222" style="stroke-width:0.12px">.1</text>
<text x="206.90" y="105.80" font-size="4.5" text-anchor="middle" font-weight="bold" fill="#222" style="stroke-width:0.12px">.5</text>
<text x="213.10" y="105.80" font-size="4.5" text-anchor="middle" font-weight="bold" fill="#222" style="stroke-width:0.12px">1</text>
<text x="232.80" y="6.20" font-size="5.9" text-anchor="middle" font-weight="bold" fill="#000" style="stroke-width:0.3px" textLength="19.2" lengthAdjust="spacingAndGlyphs">day 14</text>
<path d="M221.0 11.9 L221.8 10.3 L244.6 10.3 L245.4 11.9" fill="none" stroke="#555" stroke-width="1.1"/>
<rect x="223.30" y="22.91" width="4.90" height="76.39" rx="0.8" fill="#000"/>
<line x1="225.50" y1="13.50" x2="225.50" y2="22.91" stroke="#222" stroke-width="0.8"/>
<line x1="222.90" y1="13.50" x2="228.10" y2="13.50" stroke="#222" stroke-width="0.8"/>
<rect x="229.40" y="83.89" width="4.90" height="15.41" rx="0.8" fill="#000"/>
<line x1="231.50" y1="82.50" x2="231.50" y2="83.89" stroke="#222" stroke-width="0.8"/>
<line x1="228.90" y1="82.50" x2="234.10" y2="82.50" stroke="#222" stroke-width="0.8"/>
<rect x="235.50" y="97.43" width="4.90" height="1.87" rx="0.8" fill="#000"/>
<rect x="241.60" y="97.57" width="4.90" height="1.73" rx="0.8" fill="#000"/>
<text x="224.65" y="105.80" font-size="4.5" text-anchor="middle" font-weight="bold" fill="#222" style="stroke-width:0.12px">Co</text>
<text x="232.00" y="105.80" font-size="4.5" text-anchor="middle" font-weight="bold" fill="#222" style="stroke-width:0.12px">.1</text>
<text x="238.20" y="105.80" font-size="4.5" text-anchor="middle" font-weight="bold" fill="#222" style="stroke-width:0.12px">.5</text>
<text x="244.40" y="105.80" font-size="4.5" text-anchor="middle" font-weight="bold" fill="#222" style="stroke-width:0.12px">1</text>
<text transform="translate(75.40 57.60) rotate(-90)" font-size="8.6" text-anchor="middle" font-weight="bold" fill="#000" textLength="71.4" lengthAdjust="spacingAndGlyphs" style="stroke-width:0.290px">histamine (ng/mL)</text>
<text x="174.00" y="120.40" font-size="8.35" text-anchor="middle" font-weight="bold" fill="#000"  style="stroke-width:0.281px">STI571 (µM)</text>
</svg>
</body></html>
